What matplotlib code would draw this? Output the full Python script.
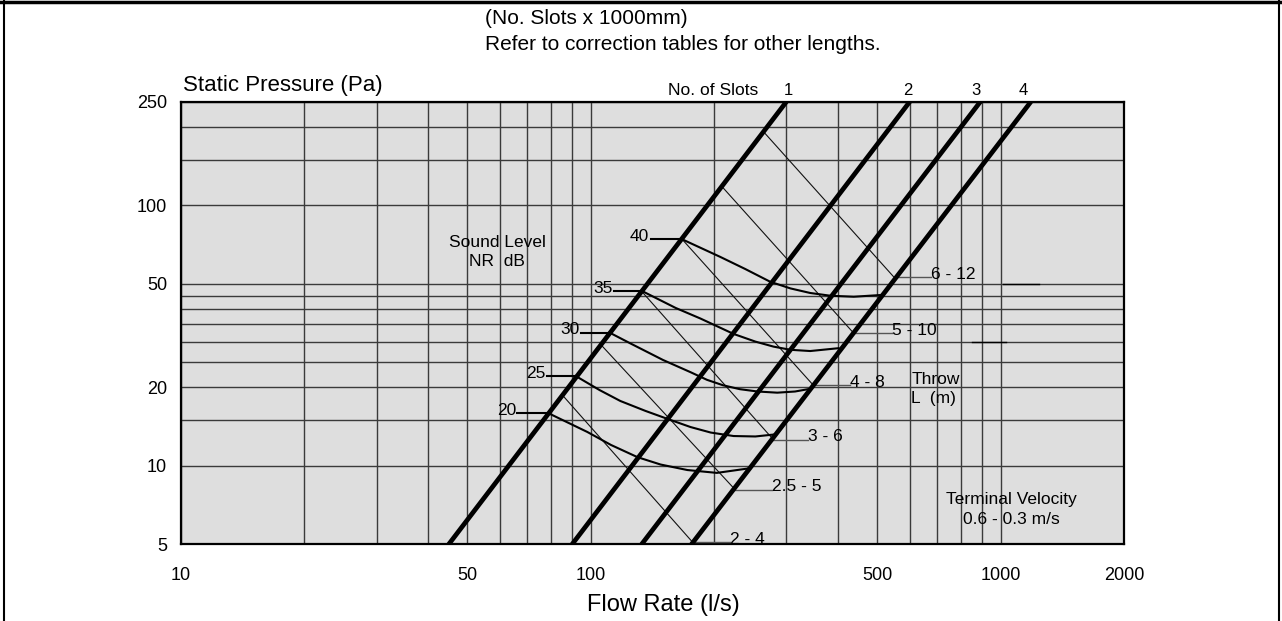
import matplotlib
matplotlib.use("Agg")
import matplotlib.pyplot as plt
from matplotlib.lines import Line2D
from matplotlib.ticker import NullLocator

plt.rcParams['font.family'] = ['Liberation Sans', 'DejaVu Sans']

# grid positions and axis labels
x_grid = [10, 20, 30, 40, 50, 60, 70, 80, 90, 100,
          200, 300, 400, 500, 600, 700, 800, 900, 1000, 2000]
x_labels = {10: '10', 50: '50', 100: '100', 500: '500', 1000: '1000', 2000: '2000'}
y_grid = [5, 10, 15, 20, 25, 30, 35, 40, 45, 50, 100, 150, 200, 250]
y_labels = {5: '5', 10: '10', 20: '20', 50: '50', 100: '100', 250: '250'}

# slot lines: flow (l/s) at 5 Pa and at 250 Pa
slots = ['1', '2', '3', '4']
slot_flow_low = [45, 90, 133, 176]
slot_flow_high = [300, 600, 892, 1185]
slot_label_x = [303, 594, 870, 1137]

# throw lines (start on slot 1, end on slot 4)
throw_labels = ['6 - 12', '5 - 10', '4 - 8', '3 - 6', '2.5 - 5', '2 - 4']
throw_x0 = [266, 210, 167, 133, 106, 86]
throw_y0 = [189, 117, 74.1, 46.8, 29.1, 18.4]
throw_x1 = [548, 438, 349, 279, 225, 177]
throw_y1 = [53.2, 32.3, 20.4, 12.6, 8.1, 5.1]
throw_lead_x = [677, 544, 430, 339, 276, 219]

# sound level curves NR dB
nr_levels = ['40', '35', '30', '25', '20']
nr_x = [
    [167, 207, 238, 274, 307, 343, 384, 438, 511],
    [133, 161, 185, 223, 252, 279, 307, 343, 402],
    [111, 125, 150, 175, 192, 210, 231, 255, 285, 315, 345],
    [92, 105, 118, 136, 154, 175, 196, 223, 252, 283],
    [79, 98, 112, 130, 148, 172, 203, 245],
]
nr_y = [
    [74.1, 63.4, 57.0, 50.9, 48.0, 46.1, 45.0, 44.6, 45.3],
    [47.0, 40.4, 36.8, 32.1, 30.0, 28.7, 27.9, 27.6, 28.3],
    [32.5, 29.5, 25.5, 22.9, 21.4, 20.4, 19.7, 19.3, 19.1, 19.3, 19.8],
    [22.1, 19.55, 17.75, 16.25, 15.14, 14.1, 13.43, 13.02, 12.97, 13.22],
    [15.9, 13.5, 12.03, 10.8, 10.12, 9.64, 9.4, 9.8],
]
nr_lead_x = [140, 114, 94.7, 78.1, 66.2]

fig = plt.figure(figsize=(12.82, 6.21), dpi=100)
ax = fig.add_axes([0.1412, 0.1235, 0.7356, 0.7127])
ax.set_xscale('log')
ax.set_yscale('log')
ax.set_xlim(10, 2000)
ax.set_ylim(5, 250)
ax.set_facecolor('#dedede')

ax.set_xticks(x_grid)
ax.set_xticklabels([x_labels.get(v, '') for v in x_grid])
ax.set_yticks(y_grid)
ax.set_yticklabels([y_labels.get(v, '') for v in y_grid])
ax.xaxis.set_minor_locator(NullLocator())
ax.yaxis.set_minor_locator(NullLocator())
ax.tick_params(axis='x', length=0, pad=16, labelsize=13)
ax.tick_params(axis='y', length=0, pad=10, labelsize=13)
ax.grid(True, color='#3a3a3a', lw=1.0)
for s in ax.spines.values():
    s.set_linewidth(1.6)
    s.set_color('black')

# throw lines
for lab, x0, y0, x1, y1, lx in zip(throw_labels, throw_x0, throw_y0,
                                    throw_x1, throw_y1, throw_lead_x):
    ax.plot([x0, x1], [y0, y1], color='#111111', lw=0.8, zorder=3)
    ax.plot([x1, lx], [y1, y1], color='#555555', lw=1.0, zorder=3)
    ax.annotate(lab, (lx, y1), xytext=(0, 2), textcoords='offset points',
                ha='left', va='center', fontsize=12.5)

# stray leader marks
ax.plot([1013, 1237], [50, 50], color='black', lw=1.0, zorder=3)
ax.plot([851, 1030], [30, 30], color='black', lw=1.0, zorder=3)

# sound level curves
for lev, xs, ys, lx in zip(nr_levels, nr_x, nr_y, nr_lead_x):
    ax.plot(xs, ys, color='black', lw=1.5, zorder=4, solid_joinstyle='round')
    ax.plot([lx, xs[0]], [ys[0], ys[0]], color='black', lw=1.5, zorder=4)
    ax.annotate(lev, (lx, ys[0]), xytext=(-1, 2), textcoords='offset points',
                ha='right', va='center', fontsize=12.5)

# slot lines
for lab, xl, xh, tx in zip(slots, slot_flow_low, slot_flow_high, slot_label_x):
    ax.plot([xl, xh], [5, 250], color='black', lw=3.4, zorder=5,
            solid_capstyle='butt')
    ax.text(tx, 276, lab, ha='center', va='center', fontsize=12)
ax.text(199, 276, 'No. of Slots', ha='center', va='center', fontsize=12.5)

ax.text(59, 66, 'Sound Level\nNR  dB', ha='center', va='center',
        fontsize=12.5, linespacing=1.35)
ax.text(605, 19.7, 'Throw\nL  (m)', ha='left', va='center',
        fontsize=12.5, linespacing=1.35)
ax.text(1061, 6.8, 'Terminal Velocity\n0.6 - 0.3 m/s', ha='center',
        va='center', fontsize=12.5, linespacing=1.35)

fig.text(183 / 1282, 1 - 86 / 621, 'Static Pressure (Pa)', ha='left',
         va='center', fontsize=16)
fig.text(663 / 1282, 1 - 605 / 621, 'Flow Rate (l/s)', ha='center',
         va='center', fontsize=17)
fig.text(485 / 1282, 1 - 18 / 621, '(No. Slots x 1000mm)', ha='left',
         va='center', fontsize=15)
fig.text(485 / 1282, 1 - 44 / 621, 'Refer to correction tables for other lengths.',
         ha='left', va='center', fontsize=15)

# outer frame
fig.add_artist(Line2D([0, 1], [0.9975, 0.9975], color='black', lw=2.5))
fig.add_artist(Line2D([0.0032, 0.0032], [0, 1], color='black', lw=1.5))
fig.add_artist(Line2D([0.9975, 0.9975], [0, 1], color='black', lw=1.5))

fig.savefig('out.png', dpi=100)
